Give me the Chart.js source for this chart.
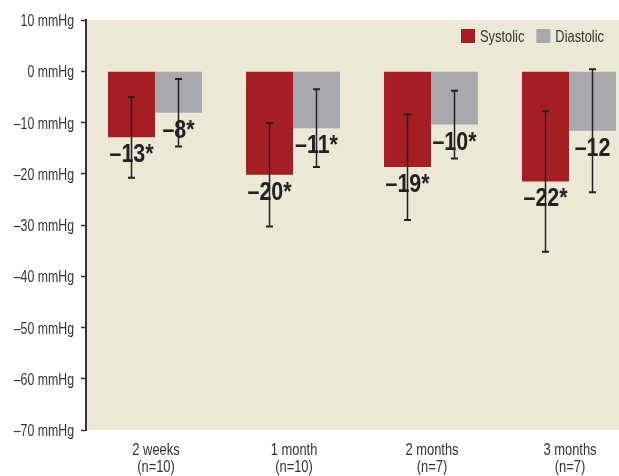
<!DOCTYPE html>
<html>
<head>
<meta charset="utf-8">
<script src="https://cdn.jsdelivr.net/npm/chart.js@4"></script>
<style>
  html, body { margin: 0; padding: 0; background: #fff; overflow: hidden; }
  #wrap { width: 619px; height: 476px; overflow: hidden; }
  #box { width: 640px; height: 476px; }
</style>
</head>
<body>
<div id="wrap"><div id="box"><canvas id="myChart"></canvas></div></div>
<script>
const categories = [['2 weeks', '(n=10)'], ['1 month', '(n=10)'], ['2 months', '(n=7)'], ['3 months', '(n=7)']];
const systolic = [-12.9, -20.2, -18.7, -21.5];
const diastolic = [-8.1, -11.1, -10.4, -11.6];
const systolicSD = [7.9, 10.1, 10.3, 13.7];
const diastolicSD = [6.6, 7.6, 6.6, 12.0];
const systolicLabels = ['\u201313*', '\u201320*', '\u201319*', '\u201322*'];
const diastolicLabels = ['\u20138*', '\u201311*', '\u201310*', '\u201312'];
const yTicks = [10, 0, -10, -20, -30, -40, -50, -60, -70];

// no narrow font installed, so text is squeezed horizontally
const FONT = '"Liberation Sans", Arial, sans-serif';
const NARROW = 0.8;
const TEXT = '#333333';

var ctx = document.getElementById('myChart').getContext('2d');

function narrowText(c, text, x, y, align, font, color, sx) {
    c.save();
    c.font = font;
    c.fillStyle = color;
    c.textAlign = align;
    c.textBaseline = 'alphabetic';
    c.translate(x, y);
    c.scale(sx || NARROW, 1);
    c.fillText(text, 0, 0);
    c.restore();
}

// beige plot background
const backgroundPlugin = {
    id: 'plotBg',
    beforeDraw(chart) {
        const a = chart.chartArea;
        const c = chart.ctx;
        c.save();
        c.fillStyle = '#ece8d6';
        c.fillRect(a.left, a.top, a.right - a.left, a.bottom - a.top);
        c.restore();
    }
};

// error bars and the value labels under each bar
const errorPlugin = {
    id: 'errorBars',
    afterDatasetsDraw(chart) {
        const c = chart.ctx;
        const y = chart.scales.y;
        chart.data.datasets.forEach((ds, di) => {
            const meta = chart.getDatasetMeta(di);
            meta.data.forEach((bar, i) => {
                const v = ds.data[i];
                const sd = ds.sd[i];
                const x = bar.x;
                const top = y.getPixelForValue(v + sd);
                const bot = y.getPixelForValue(v - sd);
                narrowText(c, ds.valueLabels[i], x, bar.y + 25, 'center', 'bold 25.5px ' + FONT, '#222', 0.84);
                c.save();
                c.strokeStyle = '#222';
                c.lineWidth = 1.5;
                c.beginPath();
                c.moveTo(x, top);
                c.lineTo(x, bot);
                c.stroke();
                c.lineWidth = 2;
                c.beginPath();
                c.moveTo(x - 3.5, top);
                c.lineTo(x + 3.5, top);
                c.moveTo(x - 3.5, bot);
                c.lineTo(x + 3.5, bot);
                c.stroke();
                c.restore();
            });
        });
    }
};

// axis labels and legend
const textPlugin = {
    id: 'narrowText',
    afterDraw(chart) {
        const c = chart.ctx;
        const xs = chart.scales.x;
        const ys = chart.scales.y;
        yTicks.forEach(v => {
            const label = (v < 0 ? '\u2013' + Math.abs(v) : v) + ' mmHg';
            narrowText(c, label, 74, ys.getPixelForValue(v) + 6, 'right', '16px ' + FONT, TEXT, 0.77);
        });
        categories.forEach((lines, i) => {
            const x = xs.getPixelForValue(i) + 1;
            lines.forEach((t, j) => {
                narrowText(c, t, x, chart.chartArea.bottom + 25 + j * 16.5, 'center', '17px ' + FONT, TEXT, 0.76);
            });
        });
        // legend inside the plot, top right
        let x = 461;
        const yMid = 36;
        chart.data.datasets.forEach((ds) => {
            c.fillStyle = ds.backgroundColor;
            c.fillRect(x, yMid - 7, 14, 14);
            narrowText(c, ds.label, x + 19, yMid + 6, 'left', '16.5px ' + FONT, TEXT, 0.78);
            c.font = '16.5px ' + FONT;
            x += 19 + c.measureText(ds.label).width * 0.78 + 12;
        });
    }
};

const chart = new Chart(ctx, {
    type: 'bar',
    data: {
        labels: categories,
        datasets: [{
            label: 'Systolic',
            data: systolic,
            sd: systolicSD,
            valueLabels: systolicLabels,
            backgroundColor: '#a51e24'
        }, {
            label: 'Diastolic',
            data: diastolic,
            sd: diastolicSD,
            valueLabels: diastolicLabels,
            backgroundColor: '#a8a9ac'
        }]
    },
    options: {
        responsive: true,
        maintainAspectRatio: false,
        animation: false,
        datasets: {
            bar: { categoryPercentage: 0.681, barPercentage: 1.0 }
        },
        layout: { padding: { top: 20, right: 2, left: 0, bottom: 0 } },
        plugins: {
            legend: { display: false },
            tooltip: { enabled: false }
        },
        scales: {
            x: {
                grid: { display: false },
                border: { display: false },
                ticks: { display: false },
                afterFit(scale) { scale.height = 46; }
            },
            y: {
                min: -70,
                max: 10,
                afterBuildTicks(scale) {
                    scale.ticks = yTicks.map(v => ({ value: v }));
                },
                grid: {
                    drawOnChartArea: false,
                    drawTicks: true,
                    tickLength: 5,
                    tickWidth: 1.5,
                    tickColor: '#333'
                },
                border: { display: true, color: '#333', width: 2 },
                ticks: { display: false },
                afterFit(scale) { scale.width = 86; }
            }
        }
    },
    plugins: [backgroundPlugin, errorPlugin, textPlugin]
});
</script>
</body>
</html>
